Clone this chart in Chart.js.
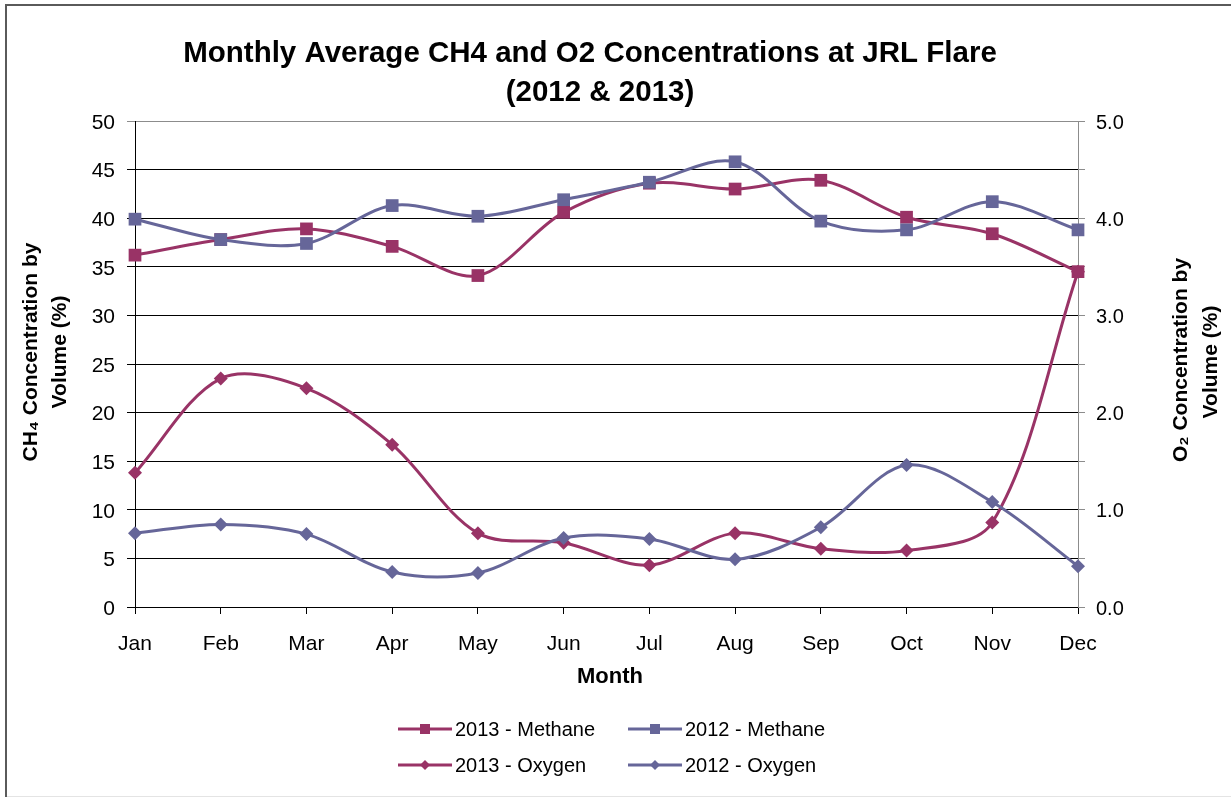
<!DOCTYPE html>
<html>
<head>
<meta charset="utf-8">
<title>Monthly Average CH4 and O2 Concentrations at JRL Flare</title>
<script src="https://cdn.jsdelivr.net/npm/chart.js@4.4.1/dist/chart.umd.min.js"></script>
<style>
  html, body { margin: 0; padding: 0; background: #fff; }
  canvas { display: block; }
</style>
</head>
<body>
<canvas id="flare" width="1231" height="797"></canvas>
<script>
// Monthly averages at the JRL flare
const months = ['Jan', 'Feb', 'Mar', 'Apr', 'May', 'Jun', 'Jul', 'Aug', 'Sep', 'Oct', 'Nov', 'Dec'];
const methane2013 = [36.2, 37.8, 38.9, 37.1, 34.1, 40.6, 43.6, 43.0, 43.9, 40.1, 38.4, 34.5];
const methane2012 = [39.9, 37.8, 37.4, 41.3, 40.2, 41.9, 43.7, 45.8, 39.7, 38.8, 41.7, 38.8];
const oxygen2013 = [1.38, 2.35, 2.25, 1.67, 0.76, 0.66, 0.43, 0.76, 0.60, 0.58, 0.87, 3.45];
const oxygen2012 = [0.76, 0.85, 0.75, 0.36, 0.35, 0.71, 0.70, 0.49, 0.82, 1.46, 1.08, 0.42];

const MAROON = '#993366';
const SLATE = '#666699';
const FONT = "'Liberation Sans', Arial, sans-serif";

function series(label, data, color, shape, axis, order) {
  const square = shape === 'square';
  return {
    label, data, yAxisID: axis, order,
    borderColor: color, backgroundColor: color,
    borderWidth: 3, tension: 0.33, clip: false,
    pointStyle: square ? 'rect' : 'rectRot',
    pointRadius: square ? 9 : 7,
    pointBorderWidth: 0,
    pointBackgroundColor: color,
    _shape: shape
  };
}

// Page frame, titles, axis titles and the two-column legend
const decorations = {
  id: 'decorations',
  beforeDraw(chart) {
    const ctx = chart.ctx;
    ctx.save();
    ctx.fillStyle = '#fff';
    ctx.fillRect(0, 0, chart.width, chart.height);
    ctx.fillStyle = '#5a5a5a';
    ctx.fillRect(5, 4, chart.width - 5, 2);
    ctx.fillRect(5, 4, 2, chart.height - 4);
    ctx.fillStyle = '#e4e4e4';
    ctx.fillRect(7, chart.height - 1, chart.width - 7, 1);
    ctx.restore();
  },
  afterDraw(chart) {
    const ctx = chart.ctx;
    ctx.save();
    ctx.fillStyle = '#000';
    ctx.textBaseline = 'alphabetic';
    ctx.textAlign = 'center';
    ctx.font = 'bold 29.5px ' + FONT;
    ctx.fillText('Monthly Average CH4 and O2 Concentrations at JRL Flare', 590, 62);
    ctx.fillText('(2012 & 2013)', 600, 101);

    ctx.textBaseline = 'middle';
    ctx.font = 'bold 22px ' + FONT;
    ctx.fillText('Month', 610, 677);

    ctx.font = 'bold 21px ' + FONT;
    const vertical = (x, y, text) => {
      ctx.save();
      ctx.translate(x, y);
      ctx.rotate(-Math.PI / 2);
      ctx.fillText(text, 0, 0);
      ctx.restore();
    };
    vertical(31, 352, 'CH\u2084 Concentration by');
    vertical(60, 352, 'Volume (%)');
    vertical(1181, 360, 'O\u2082 Concentration by');
    vertical(1211, 362, 'Volume (%)');

    // legend: 2 x 2 grid of line + marker samples
    const cells = [[0, 398, 729], [1, 628, 729], [2, 398, 765], [3, 628, 765]];
    ctx.font = '20px ' + FONT;
    ctx.textAlign = 'left';
    cells.forEach(([i, x, y]) => {
      const ds = chart.data.datasets[i];
      ctx.strokeStyle = ds.borderColor;
      ctx.fillStyle = ds.borderColor;
      ctx.lineWidth = 3;
      ctx.beginPath();
      ctx.moveTo(x, y);
      ctx.lineTo(x + 54, y);
      ctx.stroke();
      const cx = x + 27;
      if (ds._shape === 'square') {
        ctx.fillRect(cx - 5, y - 5, 10, 10);
      } else {
        ctx.beginPath();
        ctx.moveTo(cx - 5, y);
        ctx.lineTo(cx, y - 5);
        ctx.lineTo(cx + 5, y);
        ctx.lineTo(cx, y + 5);
        ctx.closePath();
        ctx.fill();
      }
      ctx.fillStyle = '#000';
      ctx.fillText(ds.label, x + 57, y + 1);
    });
    ctx.restore();
  }
};

new Chart(document.getElementById('flare'), {
  type: 'line',
  data: {
    labels: months,
    datasets: [
      series('2013 - Methane', methane2013, MAROON, 'square', 'y', 3),
      series('2012 - Methane', methane2012, SLATE, 'square', 'y', 2),
      series('2013 - Oxygen', oxygen2013, MAROON, 'diamond', 'y1', 1),
      series('2012 - Oxygen', oxygen2012, SLATE, 'diamond', 'y1', 0)
    ]
  },
  options: {
    responsive: false,
    animation: false,
    devicePixelRatio: 1,
    layout: { padding: { left: 0, right: 0, top: 121, bottom: 130 } },
    plugins: {
      legend: { display: false },
      title: { display: false },
      tooltip: { enabled: false }
    },
    scales: {
      x: {
        offset: false,
        afterFit(s) { s.height = 60; },
        grid: { drawOnChartArea: false, drawTicks: true, tickLength: 7, color: '#000', lineWidth: 1 },
        border: { color: '#000', width: 1 },
        ticks: { autoSkip: false, maxRotation: 0, padding: 18, color: '#000', font: { family: FONT, size: 21 } }
      },
      y: {
        position: 'left',
        min: 0, max: 50,
        afterFit(s) { s.width = 135; },
        ticks: { stepSize: 5, padding: 12, labelOffset: 2, color: '#000', font: { family: FONT, size: 21 } },
        grid: {
          color: (c) => (c.tick && c.tick.value === 50 ? '#8c8c8c' : '#000'),
          lineWidth: 1, tickLength: 8
        },
        border: { color: '#000', width: 1 }
      },
      y1: {
        position: 'right',
        min: 0, max: 5,
        afterFit(s) { s.width = 153; },
        ticks: {
          stepSize: 0.5, padding: 11, labelOffset: 2, color: '#000', font: { family: FONT, size: 20 },
          callback: (v) => (Math.abs(v * 2 % 2) < 1e-6 ? Number(v).toFixed(1) : '')
        },
        grid: { drawOnChartArea: false, color: '#8c8c8c', tickLength: 7 },
        border: { color: '#8c8c8c', width: 1 }
      }
    }
  },
  plugins: [decorations]
});
</script>
</body>
</html>
